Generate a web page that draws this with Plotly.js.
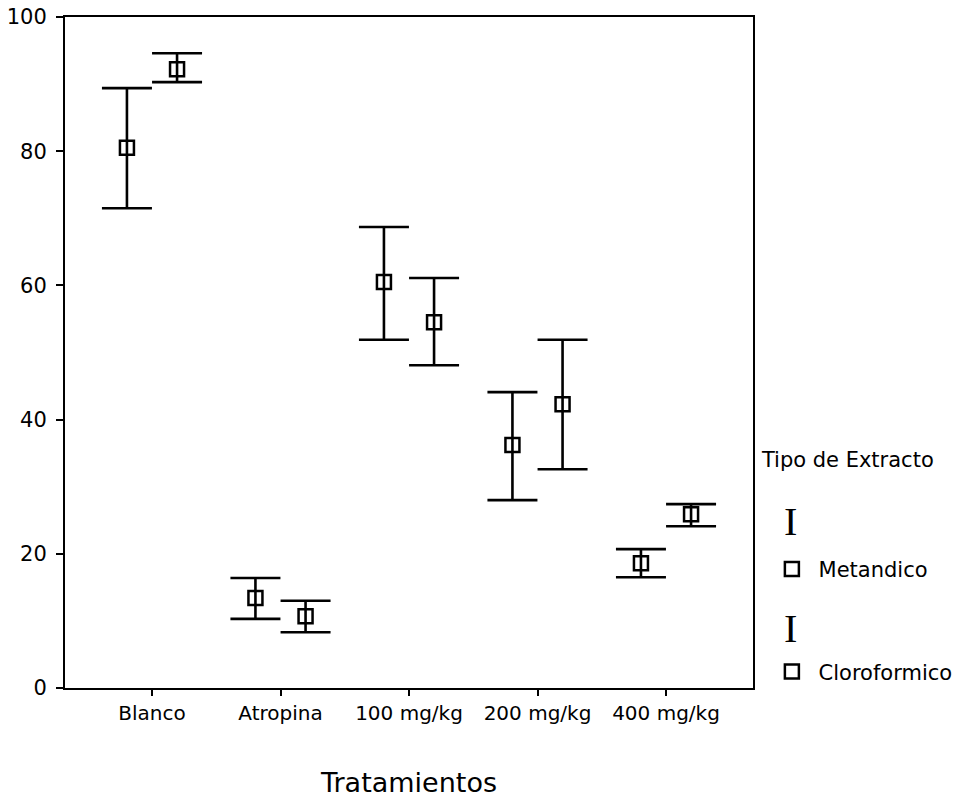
<!DOCTYPE html>
<html>
<head>
<meta charset="utf-8">
<script src="https://cdn.plot.ly/plotly-3.0.1.min.js"></script>
<style>html,body{margin:0;padding:0;background:#fff;}#chart{width:965px;height:802px;}</style>
</head>
<body>
<div id="chart"></div>
<script>
// ---- data ----
const categories = ["Blanco", "Atropina", "100 mg/kg", "200 mg/kg", "400 mg/kg"];
const metanolMean  = [80.5, 13.4, 60.5, 36.2, 18.6];
const metanolUpper = [89.4, 16.4, 68.7, 44.1, 20.7];
const metanolLower = [71.5, 10.3, 51.9, 28.0, 16.5];
const cloroMean    = [92.2, 10.7, 54.5, 42.3, 25.9];
const cloroUpper   = [94.6, 13.0, 61.1, 51.9, 27.4];
const cloroLower   = [90.3,  8.3, 48.1, 32.6, 24.1];
const seriesNames  = ["Metandico", "Cloroformico"];
const yTicks = [0, 20, 40, 60, 80, 100];

// ---- build ----
const idx = categories.map((_, i) => i);
const dodge = 0.195;
function trace(name, mean, upper, lower, off) {
  return {
    type: "scatter", mode: "markers", name: "\u00a0" + name,
    x: idx.map(i => i + off), y: mean,
    marker: {symbol: "square-open", size: 14, color: "#000", line: {width: 2.5, color: "#000"}},
    error_y: {type: "data", symmetric: false,
      array: mean.map((m, i) => upper[i] - m),
      arrayminus: mean.map((m, i) => m - lower[i]),
      color: "#000", thickness: 2.6, width: 25},
    legendgroup: name
  };
}
const data = [
  trace(seriesNames[0], metanolMean, metanolUpper, metanolLower, -dodge),
  trace(seriesNames[1], cloroMean, cloroUpper, cloroLower, dodge)
];
const font = {family: "DejaVu Sans, sans-serif", color: "#000", size: 21};
const iBeam = {family: "Liberation Serif, serif", size: 40, color: "#000"};
const layout = {
  width: 965, height: 802,
  margin: {l: 65, r: 212, t: 17, b: 114, autoexpand: false},
  paper_bgcolor: "#fff", plot_bgcolor: "#fff",
  font: font,
  showlegend: true,
  xaxis: {
    range: [-0.677, 4.677], tickmode: "array", tickvals: idx, ticktext: categories,
    ticks: "outside", ticklen: 6, tickwidth: 2, tickcolor: "#000",
    showline: true, linewidth: 2, linecolor: "#000", mirror: true,
    showgrid: false, zeroline: false, ticklabelstandoff: 0,
    tickfont: {size: 20}, title: {text: "Tratamientos", font: {size: 27}, standoff: 49}
  },
  yaxis: {
    range: [0, 100], tickmode: "array", tickvals: yTicks,
    ticks: "outside", ticklen: 7, tickwidth: 2, tickcolor: "#000",
    showline: true, linewidth: 2, linecolor: "#000", mirror: true,
    showgrid: false, zeroline: false, tickfont: {size: 21}, ticklabelstandoff: 5
  },
  legend: {
    x: 1.010, xanchor: "left", y: 0.37, yanchor: "top",
    title: {text: "Tipo de Extracto<br> <br> <br> ", font: {size: 21}},
    traceorder: "grouped", tracegroupgap: 72, indentation: 12,
    font: {size: 21}, bgcolor: "rgba(0,0,0,0)"
  },
  annotations: [
    {xref: "paper", yref: "paper", x: 1.0552, y: 0.2474, xanchor: "center", yanchor: "middle",
     text: "I", showarrow: false, font: iBeam},
    {xref: "paper", yref: "paper", x: 1.0552, y: 0.0894, xanchor: "center", yanchor: "middle",
     text: "I", showarrow: false, font: iBeam}
  ]
};
Plotly.newPlot("chart", data, layout, {displayModeBar: false, staticPlot: true});
</script>
</body>
</html>
